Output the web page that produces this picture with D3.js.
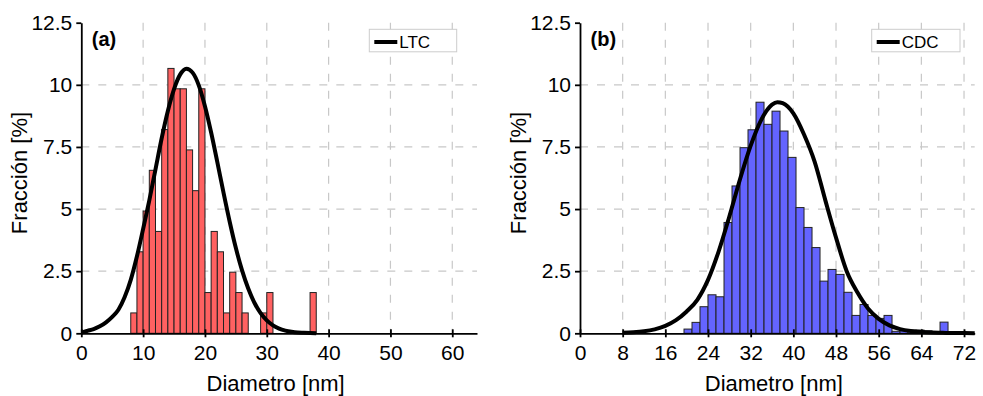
<!DOCTYPE html>
<html lang="es">
<head>
  <meta charset="UTF-8">
  <title>Distribución de diámetros LTC / CDC</title>
  <script src="https://d3js.org/d3.v7.min.js"></script>
  <style>
    body { margin: 0; background: #fff; }
    svg { display: block; font-family: "Liberation Sans", Arial, sans-serif; }
    .grid line { stroke: #c8c8c8; stroke-width: 1.2px; stroke-dasharray: 8, 9; }
    .axis path, .axis line { stroke: #000; stroke-width: 1.8px; }
    .axis text { font-size: 21px; fill: #000; font-family: "Liberation Sans", Arial, sans-serif; }
    .bar { stroke: #222; stroke-width: 1px; }
    .fit { fill: none; stroke: #000; stroke-width: 4px; stroke-linejoin: round; }
    .title { font-size: 22px; fill: #000; }
    .tag { font-size: 20px; font-weight: bold; }
    .legend rect { fill: #fff; stroke: #ccc; stroke-width: 1px; }
    .legend text { font-size: 17px; }
  </style>
</head>
<body>
  <svg width="983" height="396"></svg>
  <script>
    // (a) LTC: bins of 1 nm, lower edges + fraction [%]
    const ltcEdges = [8, 9, 10, 11, 12, 13, 14, 15, 16, 17, 18, 19, 20, 21, 22, 23, 24, 25, 26, 29, 30, 37];
    const ltcFrac  = [0.82, 3.28, 4.92, 6.56, 4.10, 8.20, 10.66, 9.84, 9.84, 7.38, 5.74, 9.84, 1.64, 4.10, 3.28, 0.82, 2.46, 1.64, 0.82, 0.82, 1.64, 1.64];

    // ajuste (curva) LTC
    const ltcFitX = [0, 1, 2, 3, 4, 5, 6, 7, 8, 9, 10, 11, 12, 13, 14, 15, 16, 17, 18, 19, 20, 21, 22, 23, 24, 25, 26, 27, 28, 29, 30, 31, 32, 33, 34, 35, 36, 37, 38];
    const ltcFitY = [0.03, 0.10, 0.17, 0.28, 0.44, 0.66, 0.95, 1.45, 2.15, 3.10, 4.20, 5.35, 6.60, 7.85, 8.95, 9.83, 10.42, 10.65, 10.49, 9.98, 9.14, 8.08, 6.89, 5.66, 4.49, 3.43, 2.53, 1.80, 1.23, 0.81, 0.52, 0.32, 0.19, 0.11, 0.06, 0.03, 0.02, 0.01, 0.0];

    // (b) CDC: bins of 1.5 nm
    const cdcEdges = [19.5, 21, 22.5, 24, 25.5, 27, 28.5, 30, 31.5, 33, 34.5, 36, 37.5, 39, 40.5, 42, 43.5, 45, 46.5, 48, 49.5, 51, 52.5, 54, 55.5, 57, 58.5, 60, 61.5, 63, 64.5, 66, 67.5, 69, 70.5, 72];
    const cdcFrac  = [0.17, 0.44, 1.07, 1.55, 1.47, 4.46, 5.93, 7.47, 8.19, 9.30, 8.41, 8.94, 8.14, 7.08, 5.06, 4.26, 3.45, 2.10, 2.57, 2.37, 1.65, 0.72, 1.16, 0.72, 0.60, 0.72, 0.08, 0.10, 0.13, 0.13, 0.10, 0.05, 0.45, 0.03, 0.07, 0.03];

    const cdcFitX = [8, 10, 12, 14, 16, 18, 20, 22, 24, 26, 28, 30, 32, 34, 36, 37, 38, 40, 42, 44, 46, 48, 50, 52, 54, 56, 58, 60, 62, 64, 66, 68, 70, 72, 74];
    const cdcFitY = [0.02, 0.04, 0.08, 0.16, 0.30, 0.53, 0.88, 1.35, 2.15, 3.30, 4.70, 6.20, 7.55, 8.60, 9.20, 9.30, 9.26, 8.85, 8.00, 6.90, 5.35, 3.85, 2.50, 1.65, 1.00, 0.58, 0.32, 0.17, 0.09, 0.05, 0.03, 0.02, 0.01, 0.01, 0.0];

    const yTicks = [0, 2.5, 5, 7.5, 10, 12.5];
    const ltcTicks = [0, 10, 20, 30, 40, 50, 60];
    const cdcTicks = [0, 8, 16, 24, 32, 40, 48, 56, 64, 72];

    const svg = d3.select("svg");
    const plotTop = 22.7, plotBottom = 333.3;

    function panel(o) {
      const x = d3.scaleLinear().domain([0, o.xMax]).range([o.left, o.right]);
      const y = d3.scaleLinear().domain([0, 12.5]).range([plotBottom, plotTop]);
      const g = svg.append("g");

      // rejilla
      const grid = g.append("g").attr("class", "grid");
      grid.selectAll(".h").data(yTicks.filter(d => d > 0 && d < 12.5)).enter()
        .append("line")
        .attr("x1", o.left).attr("x2", o.right)
        .attr("y1", d => y(d)).attr("y2", d => y(d));
      grid.selectAll(".v").data(o.ticks.filter(d => d > 0)).enter()
        .append("line")
        .attr("x1", d => x(d)).attr("x2", d => x(d))
        .attr("y1", plotTop).attr("y2", plotBottom);

      // barras
      g.selectAll(".bar").data(o.edges).enter()
        .append("rect")
        .attr("class", "bar")
        .attr("fill", o.color)
        .attr("x", d => x(d))
        .attr("width", d => x(d + o.binW) - x(d))
        .attr("y", (d, i) => y(o.frac[i]))
        .attr("height", (d, i) => y(0) - y(o.frac[i]));

      // ejes
      const xAx = g.append("g").attr("class", "axis")
        .attr("transform", `translate(0,${plotBottom})`)
        .call(d3.axisBottom(x).tickValues(o.ticks).tickSize(4).tickSizeOuter(0).tickPadding(8));
      xAx.selectAll(".tick line").attr("y1", -4);

      g.append("g").attr("class", "axis")
        .attr("transform", `translate(${o.left},0)`)
        .call(d3.axisLeft(y).tickValues(yTicks).tickSize(5).tickSizeOuter(0).tickPadding(4)
          .tickFormat(d3.format("~g")));

      // curva de ajuste
      const pts = o.fitX.map((v, i) => [v, o.fitY[i]]);
      g.append("path")
        .attr("class", "fit")
        .attr("d", d3.line().x(d => x(d[0])).y(d => y(d[1])).curve(d3.curveMonotoneX)(pts));

      // titulos
      g.append("text").attr("class", "title")
        .attr("text-anchor", "middle")
        .attr("x", (o.left + o.right) / 2 - 3.5).attr("y", 391)
        .text("Diametro [nm]");
      g.append("text").attr("class", "title")
        .attr("text-anchor", "middle")
        .attr("transform", `translate(${o.left - 54},173) rotate(-90)`)
        .text("Fracción [%]");
      g.append("text").attr("class", "tag")
        .attr("x", o.left + 10.5).attr("y", 46)
        .text(o.tag);

      // leyenda
      const lg = g.append("g").attr("class", "legend");
      lg.append("rect").attr("x", o.legX).attr("y", 29.3).attr("width", o.legW).attr("height", 22.5);
      lg.append("line").attr("x1", o.legX + 5).attr("x2", o.legX + 28)
        .attr("y1", 42).attr("y2", 42)
        .attr("stroke", "#000").attr("stroke-width", 4);
      lg.append("text").attr("x", o.legX + 30).attr("y", 48.3).text(o.name);
    }

    panel({ left: 81.3, right: 477, xMax: 64, ticks: ltcTicks, edges: ltcEdges, frac: ltcFrac, binW: 1,
            fitX: ltcFitX, fitY: ltcFitY, color: "#ff6161", tag: "(a)", name: "LTC", legX: 369.3, legW: 87.4 });
    panel({ left: 580, right: 974.7, xMax: 74, ticks: cdcTicks, edges: cdcEdges, frac: cdcFrac, binW: 1.5,
            fitX: cdcFitX, fitY: cdcFitY, color: "#6464ff", tag: "(b)", name: "CDC", legX: 871.7, legW: 88.3 });
  </script>
</body>
</html>
